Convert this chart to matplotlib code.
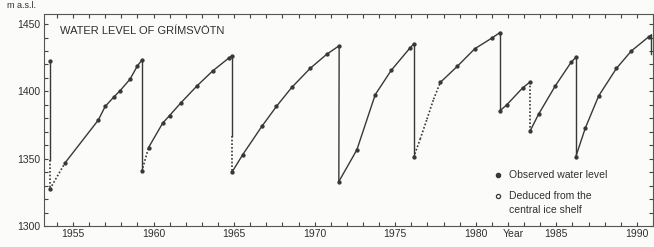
import matplotlib
matplotlib.use('Agg')
import matplotlib.pyplot as plt
from matplotlib.ticker import MultipleLocator
import matplotlib.transforms as mtransforms

# уровень воды Гримсвётн: путь линии (год, м н.у.м.)
years = [1953.57, 1953.57, 1953.57, 1954.50, 1956.57, 1957.00, 1957.55, 1957.92, 1958.54, 1959.00, 1959.27,
         1959.27, 1959.69, 1960.57, 1960.99, 1961.68, 1962.68, 1963.66, 1964.66, 1964.86,
         1964.86, 1964.86, 1965.54, 1966.72, 1967.63, 1968.58, 1969.72, 1970.76, 1971.52,
         1971.50, 1972.62, 1973.76, 1974.75, 1975.89, 1976.14,
         1976.14, 1976.55, 1976.97, 1977.38, 1977.80, 1978.85, 1979.94, 1981.01, 1981.50,
         1981.50, 1981.93, 1982.90, 1983.38,
         1983.38, 1983.90, 1984.94, 1985.91, 1986.20,
         1986.20, 1986.80, 1987.63, 1988.73, 1989.66, 1990.73, 1990.90, 1990.90]
levels = [1422.7, 1349.0, 1327.5, 1346.8, 1378.7, 1388.9, 1396.0, 1400.5, 1409.1, 1419.0, 1423.2,
          1340.6, 1358.3, 1376.5, 1382.0, 1391.3, 1403.9, 1415.1, 1424.7, 1426.4,
          1367.0, 1339.9, 1353.1, 1374.0, 1388.9, 1403.0, 1417.1, 1427.7, 1433.9,
          1333.0, 1356.6, 1397.6, 1415.6, 1431.9, 1435.1,
          1351.0, 1364.6, 1379.4, 1394.2, 1406.7, 1418.6, 1431.7, 1439.7, 1443.7,
          1385.6, 1390.1, 1402.5, 1407.1,
          1370.8, 1383.1, 1404.2, 1421.5, 1425.2,
          1351.2, 1372.8, 1396.7, 1417.1, 1430.1, 1440.5, 1442.0, 1428.0]
# наблюдённые точки (1) и промежуточные узлы линии (0)
observed = [1, 0, 1, 1, 1, 1, 1, 1, 1, 1, 1,
            1, 1, 1, 1, 1, 1, 1, 1, 1,
            0, 1, 1, 1, 1, 1, 1, 1, 1,
            1, 1, 1, 1, 1, 1,
            1, 0, 0, 0, 1, 1, 1, 1, 1,
            1, 1, 1, 1,
            1, 1, 1, 1, 1,
            1, 1, 1, 1, 1, 1, 0, 0]
# отрезки i -> i+1, выведенные по центральному шельфу (пунктир)
deduced_segments = [1, 2, 11, 20, 35, 36, 37, 38, 47]

x_labels = [1955, 1960, 1965, 1970, 1975, 1980, 1985, 1990]
y_labels = [1300, 1350, 1400, 1450]

line_col = '#383838'
txt_col = '#303030'
plt.rcParams['font.family'] = ['Liberation Sans', 'DejaVu Sans']

fig = plt.figure(figsize=(6.54, 2.47), dpi=100)
fig.patch.set_facecolor('#fbfbf9')
ax = fig.add_axes([44/654, 21/247, 609/654, 212/247])
ax.set_facecolor('#fbfbf9')

for i in range(len(years)-1):
	if i in deduced_segments:
		ax.plot(years[i:i+2], levels[i:i+2], color=line_col, lw=1.2, ls=(0, (1, 1.2)))
	else:
		ax.plot(years[i:i+2], levels[i:i+2], color=line_col, lw=1.0)

ox = [years[i] for i in range(len(years)) if observed[i]]
oy = [levels[i] for i in range(len(years)) if observed[i]]
ax.plot(ox, oy, ls='none', marker='o', ms=2.1, color=line_col)

ax.set_xlim(1953.2, 1991.0)
ax.set_ylim(1300, 1457.5)
ax.set_xticks(x_labels)
ax.xaxis.set_minor_locator(MultipleLocator(1))
ax.set_yticks(y_labels)
ax.yaxis.set_minor_locator(MultipleLocator(10))
ax.tick_params(which='both', direction='in', top=True, right=True, length=3, width=0.8, color='#444444')
ax.tick_params(axis='x', labelsize=7.5, pad=2, labelcolor=txt_col)
ax.tick_params(axis='y', labelsize=7.5, pad=3, labelcolor=txt_col)
for s in ax.spines.values():
	s.set_color('#555555')
	s.set_linewidth(0.8)

trans = mtransforms.blended_transform_factory(ax.transData, ax.transAxes)
ax.text(1982.33, -0.012, 'Year', transform=trans, ha='center', va='top', fontsize=7.5, color=txt_col)
fig.text(22/654, 1-5/247, 'm a.s.l.', ha='center', va='center', fontsize=6.5, color=txt_col)

ax.text(0.026, 0.92, 'WATER LEVEL OF GRÍMSVÖTN', transform=ax.transAxes, ha='left', va='center',
	fontsize=8, color=txt_col)

# легенда
ax.plot([0.745], [0.24], transform=ax.transAxes, marker='o', ms=3.0, color=line_col, ls='none')
ax.text(0.764, 0.24, 'Observed water level', transform=ax.transAxes, va='center', fontsize=7.5, color=txt_col)
ax.plot([0.745], [0.142], transform=ax.transAxes, marker='o', ms=3.0, mfc='white', mec=line_col, mew=0.9, ls='none')
ax.text(0.764, 0.142, 'Deduced from the', transform=ax.transAxes, va='center', fontsize=7.5, color=txt_col)
ax.text(0.764, 0.076, 'central ice shelf', transform=ax.transAxes, va='center', fontsize=7.5, color=txt_col)

plt.savefig('out.png', dpi=100, facecolor=fig.get_facecolor())
